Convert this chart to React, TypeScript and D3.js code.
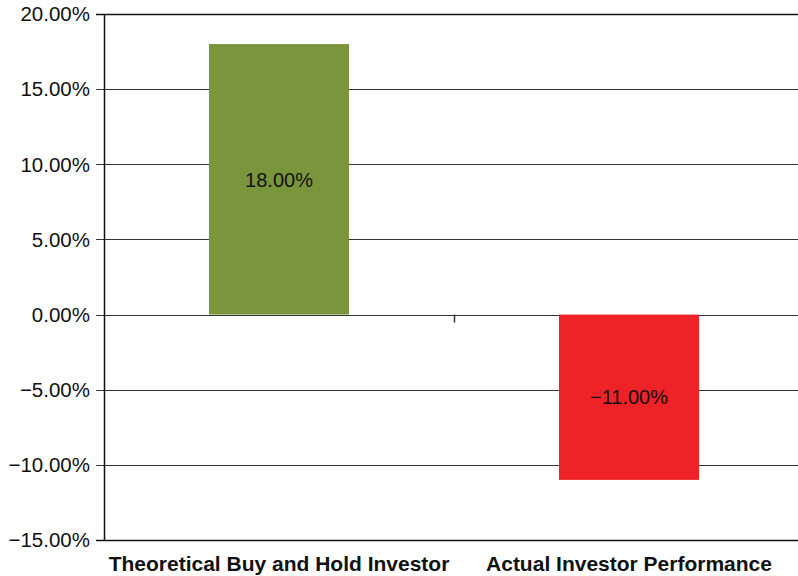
import React from "react";
import * as d3 from "d3";

const categories = ["Theoretical Buy and Hold Investor", "Actual Investor Performance"];
const values = [0.18, -0.11];
const barColors = ["#7A953B", "#EE2227"];
const yTicks = [0.2, 0.15, 0.1, 0.05, 0, -0.05, -0.1, -0.15];

const W = 798;
const H = 576;
const left = 104;
const right = 804;
const top = 14;
const bottom = 540;

const fmt = (v: number) => {
  const s = (Math.abs(v) * 100).toFixed(2) + "%";
  return v < 0 ? "\u2212" + s : s;
};

export default function App() {
  const x = d3.scaleBand<string>().domain(categories).range([left, right]).paddingInner(0.6).paddingOuter(0.3);
  const xOuter = d3.scaleBand<string>().domain(categories).range([left, right]);
  const y = d3.scaleLinear().domain([-0.15, 0.2]).range([bottom, top]);
  const font = "'Liberation Sans', Arial, Helvetica, sans-serif";

  return (
    <svg width={W} height={H} style={{ position: "absolute", left: 0, top: 0, display: "block", background: "#fff" }}>
      {yTicks.map((t) => (
        <g key={t}>
          <line x1={96} x2={W} y1={Math.round(y(t)) + 0.5} y2={Math.round(y(t)) + 0.5}
            stroke={t === 0.2 || t === -0.15 ? "#111" : "#333"} strokeWidth={t === 0.2 || t === -0.15 ? 1.6 : 1.2} />
          <text x={90} y={y(t) + 7.3} textAnchor="end" fontFamily={font} fontSize={20.5} fill="#111">{fmt(t)}</text>
        </g>
      ))}
      <line x1={left + 0.5} x2={left + 0.5} y1={top} y2={bottom} stroke="#111" strokeWidth={1.5} />
      {categories.slice(1).map((c) => (
        <line key={c} x1={(xOuter(c) as number) + 0.5} x2={(xOuter(c) as number) + 0.5}
          y1={y(0)} y2={y(0) + 8} stroke="#333" strokeWidth={1.5} />
      ))}
      {categories.map((c, i) => {
        const v = values[i];
        const x0 = x(c) as number;
        const y0 = y(Math.max(0, v));
        const y1 = y(Math.min(0, v));
        const mid = (y0 + y1) / 2;
        return (
          <g key={c}>
            <rect x={x0} y={y0} width={x.bandwidth()} height={y1 - y0} fill={barColors[i]} />
            <text x={x0 + x.bandwidth() / 2} y={mid + 7.2} textAnchor="middle" fontFamily={font} fontSize={20} fill="#111">{fmt(v)}</text>
            <text x={(xOuter(c) as number) + xOuter.bandwidth() / 2} y={570.5} textAnchor="middle"
              fontFamily={font} fontSize={21} fontWeight="bold" fill="#111">{c}</text>
          </g>
        );
      })}
    </svg>
  );
}
